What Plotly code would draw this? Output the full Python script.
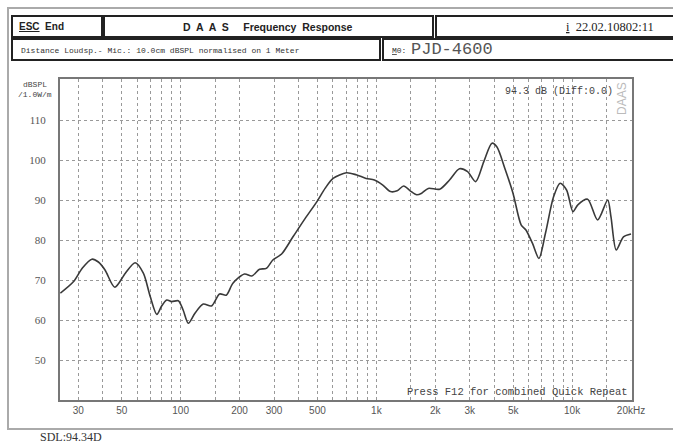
import plotly.graph_objects as go
import math

# ---- data ----
freq_hz = [24.3, 28.4, 31.5, 35.2, 38, 41.1, 46.1, 52.2, 58.6, 64.5, 70, 75.6, 80, 84.9, 90,
           97.3, 103, 109.5, 118.4, 130.5, 143.7, 158.2, 171, 185, 212, 231, 253, 274, 296,
           328, 375, 433, 497, 547, 601, 703, 789, 886, 977, 1075, 1182, 1277, 1379, 1489,
           1608, 1705, 1842, 2108, 2365, 2659, 2925, 3217, 3540, 3895, 4125, 4535, 4990,
           5490, 5810, 6270, 6770, 7310, 8040, 8680, 9370, 10100, 10700, 12000, 13500,
           15200, 15800, 16800, 18300, 20000]
spl_db = [66.7, 69.6, 73.0, 75.2, 74.5, 72.5, 68.2, 71.7, 74.3, 71.7, 65.8, 61.4, 63.5, 65.0, 64.6,
          64.8, 62.5, 59.2, 61.7, 64.0, 63.5, 66.5, 66.2, 69.2, 71.5, 71.0, 72.7, 72.9, 75.0,
          76.5, 80.8, 85.4, 89.6, 92.9, 95.4, 96.8, 96.3, 95.4, 95.0, 93.8, 92.1, 92.3, 93.5, 92.3,
          91.3, 91.7, 92.9, 92.7, 95.0, 97.8, 97.1, 94.6, 99.6, 104.2, 103.3, 97.9, 91.7,
          83.8, 82.5, 79.2, 75.4, 81.7, 90.8, 94.2, 92.5, 87.1, 88.8, 90.2, 85.0,
          90.0, 85.8, 77.5, 80.8, 81.5]

x_tick_vals = [30, 50, 100, 200, 300, 500, 1000, 2000, 3000, 5000, 10000, 20000]
x_tick_text = ["30", "50", "100", "200", "300", "500", "1k", "2k", "3k", "5k", "10k", "20kHz"]
x_minor_grid = [40, 60, 70, 80, 90, 150, 400, 600, 700, 800, 900, 1500, 4000, 6000, 7000,
                8000, 9000, 15000]
y_tick_vals = [50, 60, 70, 80, 90, 100, 110]

fig = go.Figure()
fig.add_trace(go.Scatter(x=freq_hz, y=spl_db, mode="lines",
                         line=dict(color="#3a3a3a", width=1.6, shape="spline", smoothing=0.8),
                         hoverinfo="skip", showlegend=False))

W, H = 673, 445
L, R, T, B = 60, 41, 79, 45
PW, PH = W - L - R, H - T - B

fig.update_layout(
    width=W, height=H,
    margin=dict(l=L, r=R, t=T, b=B),
    paper_bgcolor="white", plot_bgcolor="white",
    showlegend=False,
    font=dict(family="Liberation Sans", color="#555"),
)
fig.update_xaxes(
    type="log", range=[math.log10(24.2), math.log10(20000) + 0.005],
    tickmode="array", tickvals=x_tick_vals, ticktext=x_tick_text,
    ticks="", showgrid=True, gridcolor="#999", griddash="dot", gridwidth=1,
    minor=dict(tickvals=x_minor_grid, showgrid=True, gridcolor="#999", griddash="dot",
               gridwidth=1, ticks=""),
    showline=True, linecolor="#777", linewidth=2, mirror=True,
    tickfont=dict(size=10, color="#555", family="Liberation Sans"),
    zeroline=False, fixedrange=True,
)
fig.update_yaxes(
    range=[40, 120.25], tickmode="array", tickvals=y_tick_vals,
    ticks="", showgrid=True, gridcolor="#999", griddash="dot", gridwidth=1,
    showline=True, linecolor="#777", linewidth=2, mirror=True,
    tickfont=dict(size=11, color="#555", family="Liberation Serif"),
    ticklabelstandoff=10, zeroline=False, fixedrange=True,
)

def px(x):
    return (x - L) / PW

def py(y):
    return (H - B - y) / PH

shapes = []
# outer frame
shapes.append(dict(type="rect", xref="paper", yref="paper", x0=px(8), x1=px(690), y0=py(429), y1=py(8),
                   line=dict(color="#aaa", width=2), layer="below"))
# header boxes
boxes = [(12, 102, 16, 37), (104, 433, 16, 37), (436, 690, 16, 37),
         (12, 380, 39, 60), (383, 690, 39, 60)]
for x0, x1, y0, y1 in boxes:
    shapes.append(dict(type="rect", xref="paper", yref="paper", x0=px(x0), x1=px(x1),
                       y0=py(y1), y1=py(y0), line=dict(color="#222", width=2)))
fig.update_layout(shapes=shapes)

ann = []
def text(x, y, s, size=9, color="#222", family="Liberation Sans", xanchor="left", bold=False, angle=0):
    ann.append(dict(x=px(x), y=py(y), xref="paper", yref="paper", text=("<b>%s</b>" % s) if bold else s,
                    showarrow=False, xanchor=xanchor, yanchor="middle", textangle=angle,
                    font=dict(size=size, color=color, family=family)))

MONO = "Liberation Mono"
text(17, 27, "<u>ESC</u>  End", size=10, bold=True)
text(268, 27, "D  A  A  S     Frequency  Response", size=10.5, xanchor="center", bold=True)
text(564, 27, "<u>i</u>  22.02.10802:11", size=12.5, family="Liberation Serif")
text(19, 50, "Distance Loudsp.- Mic.: 10.0cm dBSPL normalised on 1 Meter", size=8, color="#333", family=MONO)
text(390, 50, "<u>M</u>0:", size=8, color="#333", family=MONO)
text(409, 49, "PJD-4600", size=17, color="#555", family=MONO)
text(21, 84, "dBSPL", size=8, color="#444", family=MONO)
text(16, 94, "/1.0W/m", size=8, color="#444", family=MONO)
text(503, 91, "94.3 dB (Diff:0.0)", size=10, color="#444", family=MONO)
text(622, 99, "DAAS", size=12, color="#bbb", xanchor="center", angle=-90)
text(630, 392, "Press F12 for combined Quick Repeat", size=10.5, color="#444", family=MONO, xanchor="right")
text(38, 437, "SDL:94.34D", size=12, color="#333", family="Liberation Serif")
fig.update_layout(annotations=ann)

fig.write_html("out.html", config={"displayModeBar": False},
               post_script="document.body.style.margin='0';document.body.style.overflow='hidden';")
